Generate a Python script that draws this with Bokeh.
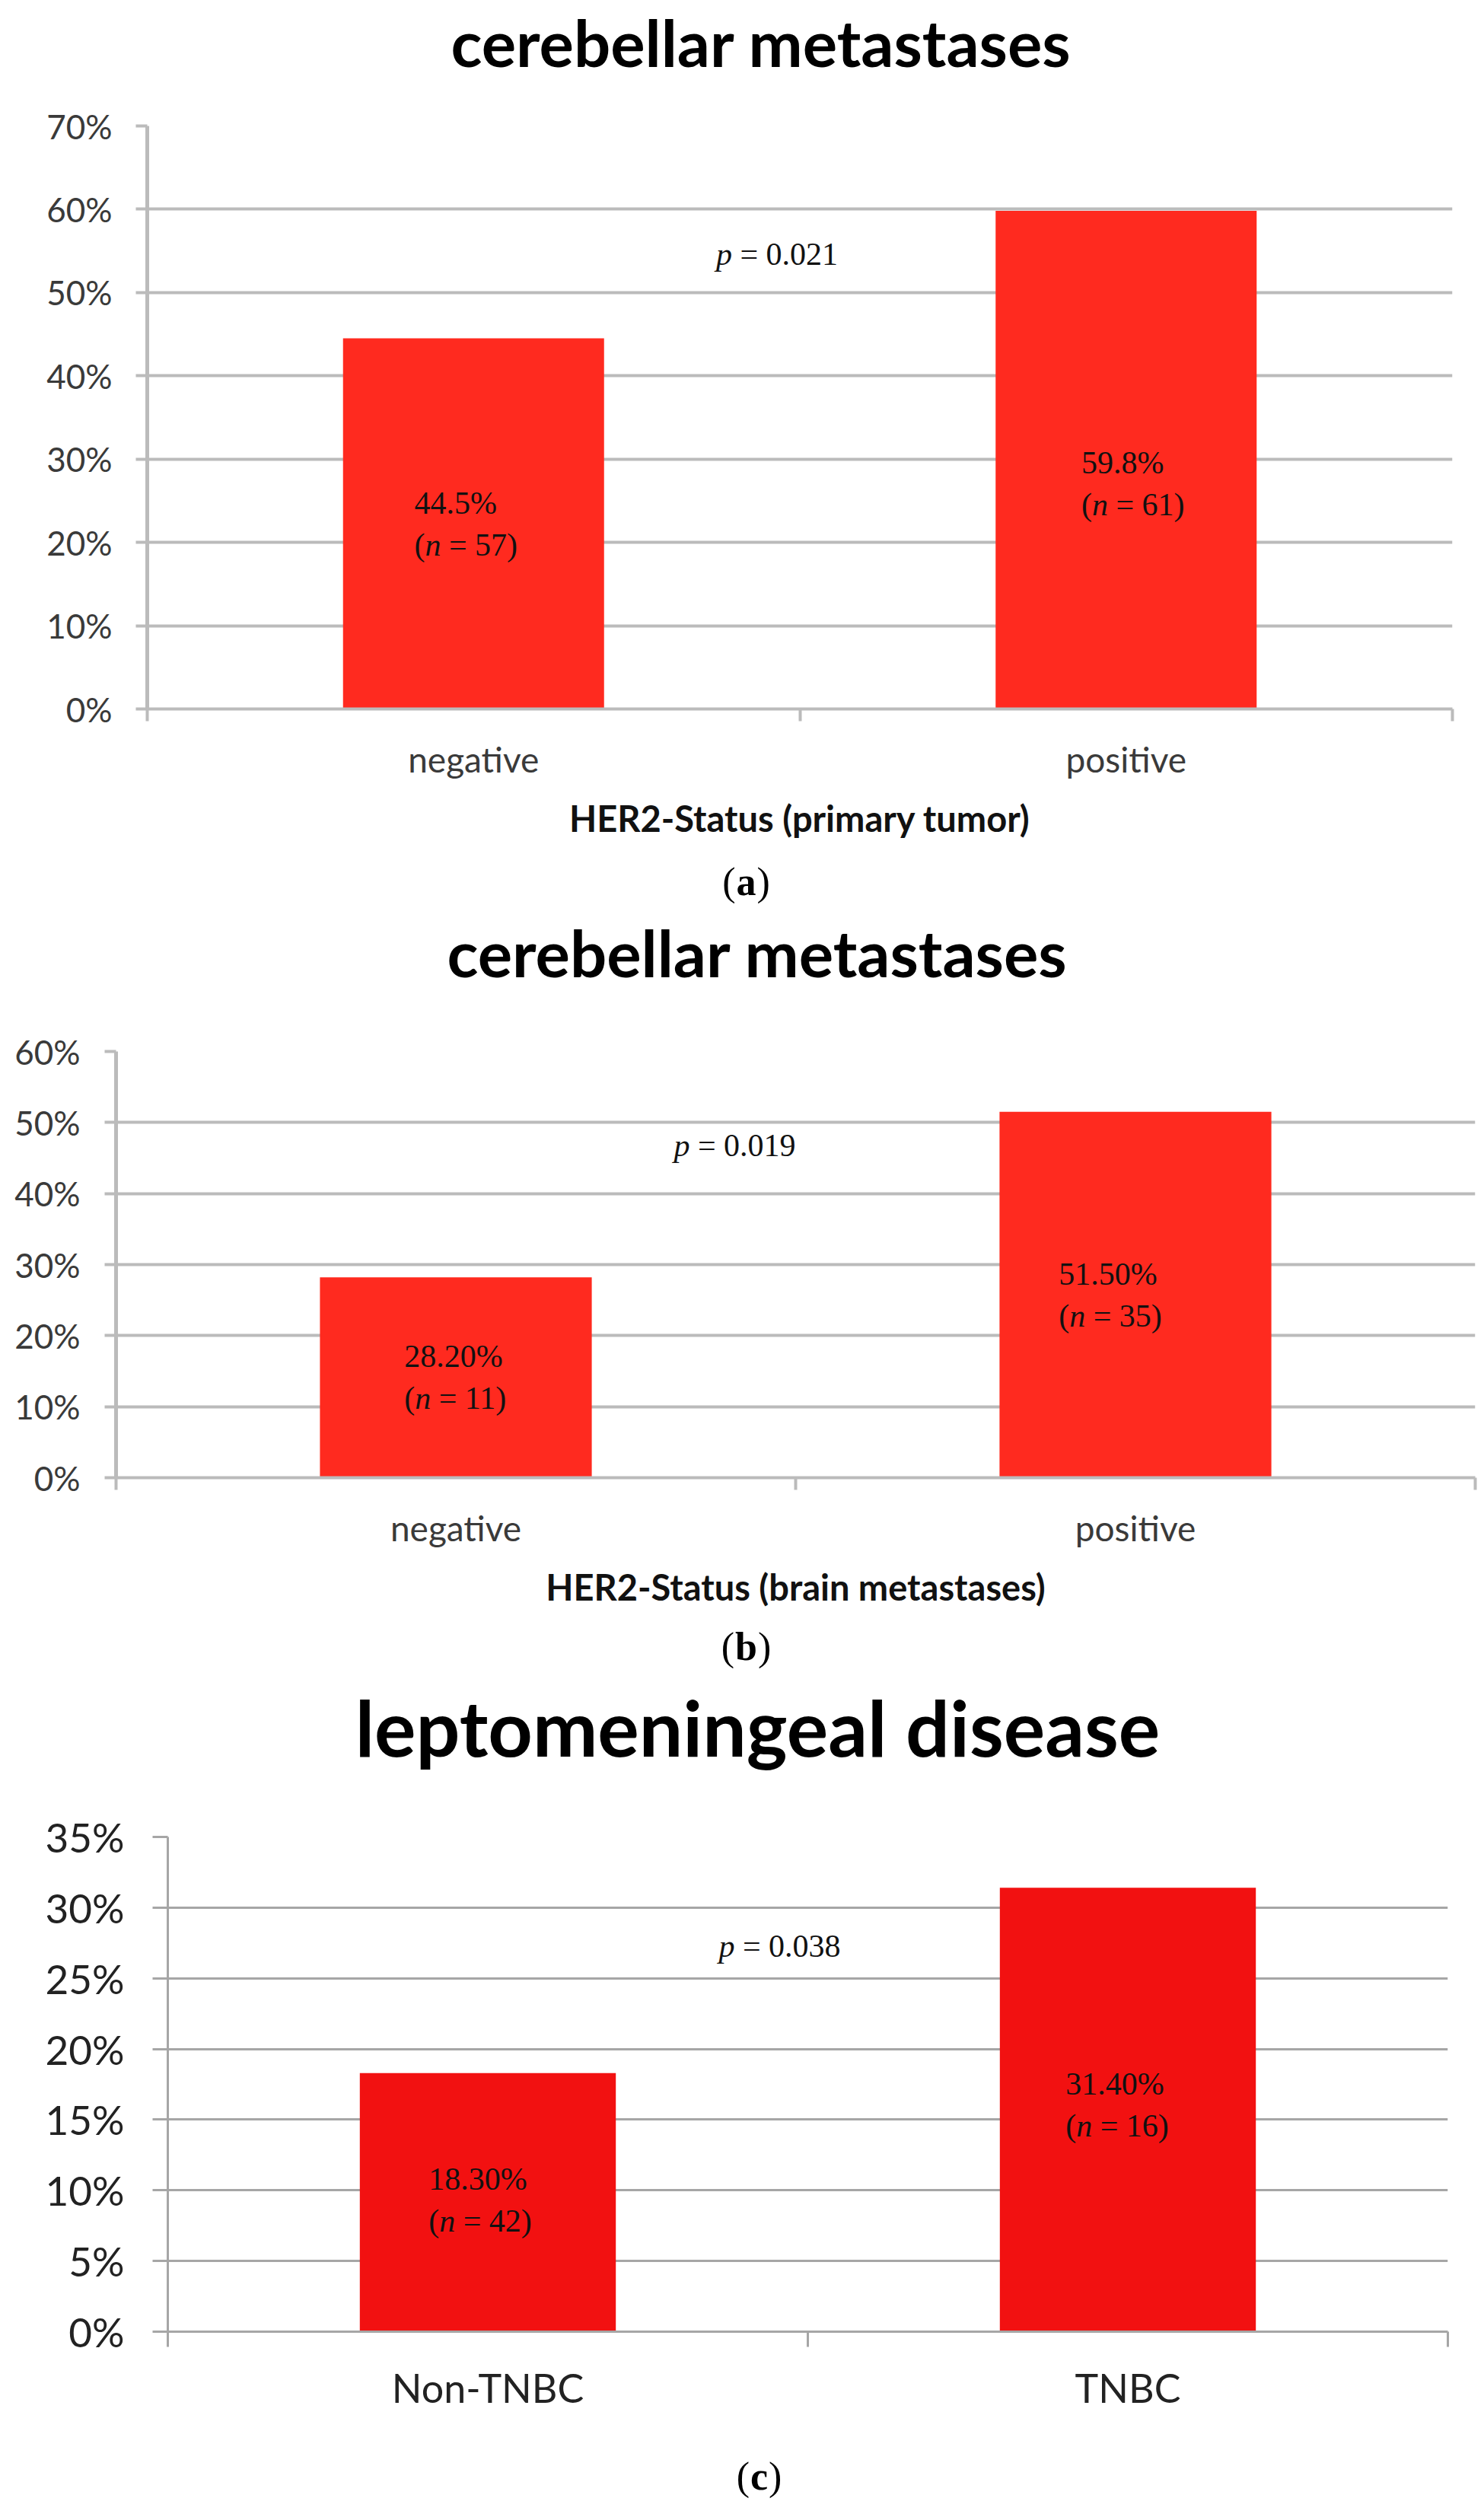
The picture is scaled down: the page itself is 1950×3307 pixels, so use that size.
from bokeh.plotting import figure
from bokeh.models import Range1d, FixedTicker, PrintfTickFormatter, ColumnDataSource
from bokeh.embed import file_html
from bokeh.resources import INLINE
from bokeh.core.properties import value

# ---------------- data ----------------
a_title = "cerebellar metastases"
a_categories = ["negative", "positive"]
a_values = [44.5, 59.8]
a_n = [57, 61]
a_p = "0.021"
a_xlabel = "HER2-Status (primary tumor)"
a_yticks = [0, 10, 20, 30, 40, 50, 60, 70]
a_caption = "a"

b_title = "cerebellar metastases"
b_categories = ["negative", "positive"]
b_values = [28.20, 51.50]
b_n = [11, 35]
b_p = "0.019"
b_xlabel = "HER2-Status (brain metastases)"
b_yticks = [0, 10, 20, 30, 40, 50, 60]
b_caption = "b"

c_title = "leptomeningeal disease"
c_categories = ["Non-TNBC", "TNBC"]
c_values = [18.30, 31.40]
c_n = [42, 16]
c_p = "0.038"
c_xlabel = ""
c_yticks = [0, 5, 10, 15, 20, 25, 30, 35]
c_caption = "c"

# ---------------- layout / style ----------------
PAGE_W = 1950
SERIF = "Liberation Serif"
SANS = "Lato"
FS = 42          # serif annotation font size (px)
LINE = 27.5      # half line spacing of two-line bar labels
CAP_FS = 52
TITLE_COLOR = "#000000"

charts = [
    dict(cats=a_categories, vals=a_values, n=a_n, p=a_p, xlabel=a_xlabel,
         yticks=a_yticks, fmt="{:.1f}%",
         top_page=135, height=990, L=193, R=1908, T=165, B=931,
         bar_color="#FF2A1F", grid_color="#BBBBBB", grid_w=4, axis_w=5,
         tick_size=44, tick_out=15, tick_standoff=31, cat_size=46, cat_standoff=22,
         xtick_out=16, label_color="#3a3a3a", p_shift=-30,
         nudge=[(0, 0), (19, 31)]),
    dict(cats=b_categories, vals=b_values, n=b_n, p=b_p, xlabel=b_xlabel,
         yticks=b_yticks, fmt="{:.2f}%",
         top_page=1340, height=775, L=152, R=1938, T=1381, B=1942,
         bar_color="#FF2A1F", grid_color="#BBBBBB", grid_w=4, axis_w=5,
         tick_size=44, tick_out=15, tick_standoff=32, cat_size=46, cat_standoff=22,
         xtick_out=16, label_color="#3a3a3a", p_shift=-80,
         nudge=[(10, 0), (-23, 0)]),
    dict(cats=c_categories, vals=c_values, n=c_n, p=c_p, xlabel=c_xlabel,
         yticks=c_yticks, fmt="{:.2f}%",
         top_page=2370, height=815, L=220, R=1902, T=2413, B=3063,
         bar_color="#F21111", grid_color="#A6A6A6", grid_w=3, axis_w=3,
         tick_size=53, tick_out=20, tick_standoff=37, cat_size=52, cat_standoff=22,
         xtick_out=20, label_color="#222222", p_shift=-37,
         nudge=[(0, -3), (-4, -6)]),
]

# text strips between the charts: (top on page, height, titles, captions)
# text positions are the vertical middle of each line on the page
strips = [
    dict(top_page=0, height=135,
         titles=[(a_title, 1000, 54, 85)], captions=[]),
    dict(top_page=1125, height=215,
         titles=[(b_title, 995, 1250, 85)], captions=[(a_caption, 980, 1158, 0.50)]),
    dict(top_page=2115, height=255,
         titles=[(c_title, 995, 2268, 102)], captions=[(b_caption, 980, 2163, 0.556)]),
    dict(top_page=3185, height=115,
         titles=[], captions=[(c_caption, 997, 3253, 0.444)]),
]


def serif_width(s):
    w = 0.0
    for ch in s:
        if ch.isdigit():
            w += 0.5
        elif ch == " ":
            w += 0.25
        elif ch == "=":
            w += 0.564
        elif ch in "()":
            w += 0.333
        elif ch == ".":
            w += 0.25
        elif ch == "%":
            w += 0.833
        else:
            w += 0.5
    return w * FS


def make_strip(cfg):
    top, H = cfg["top_page"], cfg["height"]
    s = figure(width=PAGE_W, height=H, output_backend="svg", toolbar_location=None,
               x_range=Range1d(0, PAGE_W), y_range=Range1d(H, 0),
               x_axis_location=None, y_axis_location=None, title=None,
               min_border=0, min_border_left=0, min_border_right=0,
               min_border_top=0, min_border_bottom=0)
    s.outline_line_color = None
    s.xgrid.visible = False
    s.ygrid.visible = False
    s.background_fill_color = "white"
    s.border_fill_color = "white"
    for text, cx, mid, size in cfg["titles"]:
        s.text(x=[cx], y=[mid - top], text=[text], text_align="center",
               text_baseline="middle", text_font=value(SANS), text_font_style="bold",
               text_font_size=f"{size}px", text_color=TITLE_COLOR)
    for letter, cx, mid, wem in cfg["captions"]:
        half = wem * CAP_FS / 2 + 1
        common = dict(y=[mid - top], text_baseline="middle", text_font=value(SERIF),
                      text_font_size=f"{CAP_FS}px", text_color="#000000")
        s.text(x=[cx - half], text=["("], text_align="right", **common)
        s.text(x=[cx], text=[letter], text_align="center", text_font_style="bold", **common)
        s.text(x=[cx + half], text=[")"], text_align="left", **common)
    return s


def make_chart(cfg):
    L, R, T, B = cfg["L"], cfg["R"], cfg["T"], cfg["B"]
    top_page, H = cfg["top_page"], cfg["height"]
    ymax = cfg["yticks"][-1]
    ncat = len(cfg["cats"])

    p = figure(width=PAGE_W, height=H, output_backend="svg", toolbar_location=None,
               x_range=Range1d(0, ncat), y_range=Range1d(0, ymax), title=None,
               min_border_left=L, min_border_right=PAGE_W - R,
               min_border_top=T - top_page, min_border_bottom=top_page + H - B)
    p.outline_line_color = None
    p.background_fill_color = "white"
    p.border_fill_color = "white"

    # grid
    p.xgrid.visible = False
    p.ygrid.ticker = FixedTicker(ticks=cfg["yticks"])
    p.ygrid.grid_line_color = cfg["grid_color"]
    p.ygrid.grid_line_width = cfg["grid_w"]

    # y axis
    ya = p.yaxis[0]
    ya.ticker = FixedTicker(ticks=cfg["yticks"])
    ya.formatter = PrintfTickFormatter(format="%d%%")
    ya.axis_line_color = cfg["grid_color"]
    ya.axis_line_width = cfg["axis_w"]
    ya.major_tick_line_color = cfg["grid_color"]
    ya.major_tick_line_width = cfg["grid_w"]
    ya.major_tick_out = cfg["tick_out"]
    ya.major_tick_in = 0
    ya.minor_tick_line_color = None
    ya.major_label_standoff = cfg["tick_standoff"]
    ya.major_label_text_font = SANS
    ya.major_label_text_font_size = f"{cfg['tick_size']}px"
    ya.major_label_text_color = cfg["label_color"]

    # x axis: labels at category centres, ticks at category boundaries
    xa = p.xaxis[0]
    centers = [i + 0.5 for i in range(ncat)]
    xa.ticker = FixedTicker(ticks=centers, minor_ticks=list(range(ncat + 1)))
    xa.major_label_overrides = {c: name for c, name in zip(centers, cfg["cats"])}
    xa.major_tick_line_color = None
    xa.major_tick_out = 0
    xa.major_tick_in = 0
    xa.minor_tick_line_color = cfg["grid_color"]
    xa.minor_tick_line_width = cfg["grid_w"]
    xa.minor_tick_out = cfg["xtick_out"]
    xa.minor_tick_in = 0
    xa.axis_line_color = cfg["grid_color"]
    xa.axis_line_width = cfg["grid_w"]
    xa.major_label_standoff = cfg["cat_standoff"]
    xa.major_label_text_font = SANS
    xa.major_label_text_font_size = f"{cfg['cat_size']}px"
    xa.major_label_text_color = cfg["label_color"]
    if cfg["xlabel"]:
        xa.axis_label = cfg["xlabel"]
        xa.axis_label_text_font = SANS
        xa.axis_label_text_font_style = "bold"
        xa.axis_label_text_font_size = "47px"
        xa.axis_label_text_color = "#111111"
        xa.axis_label_standoff = 19

    # label geometry (screen px)
    shift = -10
    w_open = serif_width("(")
    w_n = 0.5 * FS
    w_sp = 0.25 * FS
    w_rest = max(serif_width(f" = {k})") for k in cfg["n"])
    total = w_open + w_n + w_rest
    x0 = shift - total / 2
    ndx = [d[0] for d in cfg["nudge"]]
    ndy = [d[1] for d in cfg["nudge"]]

    # bars
    src = ColumnDataSource(dict(
        x=centers, top=cfg["vals"],
        mid=[v / 2 for v in cfg["vals"]],
        pct=[cfg["fmt"].format(v) for v in cfg["vals"]],
        open_=["("] * ncat,
        nn=["n"] * ncat,
        rest=[f"= {k})" for k in cfg["n"]],
        xo1=[x0 + d for d in ndx],
        xo2=[x0 + w_open + d for d in ndx],
        xo3=[x0 + w_open + w_n + w_sp + d for d in ndx],
        yo1=[-LINE + d for d in ndy],
        yo2=[LINE + d for d in ndy],
    ))
    p.vbar(x="x", top="top", bottom=0, width=0.4, source=src,
           fill_color=cfg["bar_color"], line_color=None)

    # two-line labels inside bars
    common = dict(source=src, text_font=value(SERIF), text_font_size=f"{FS}px",
                  text_color="#111111", text_baseline="middle", text_align="left")
    p.text(x="x", y="mid", text="pct", x_offset="xo1", y_offset="yo1", **common)
    p.text(x="x", y="mid", text="open_", x_offset="xo1", y_offset="yo2", **common)
    p.text(x="x", y="mid", text="nn", x_offset="xo2", y_offset="yo2",
           text_font_style="italic", **common)
    p.text(x="x", y="mid", text="rest", x_offset="xo3", y_offset="yo2", **common)

    # p-value between the bars
    ptot = 0.5 * FS + serif_width(f" = {cfg['p']}")
    joint = cfg["p_shift"] - ptot / 2 + 0.5 * FS
    psrc = ColumnDataSource(dict(x=[ncat / 2], y=[ymax * 0.78], pp=["p"],
                                 rest=[f"= {cfg['p']}"]))
    p.text(x="x", y="y", text="pp", source=psrc, x_offset=joint, text_align="right",
           text_baseline="middle", text_font=value(SERIF), text_font_style="italic",
           text_font_size=f"{FS}px", text_color="#111111")
    p.text(x="x", y="y", text="rest", source=psrc, x_offset=joint + w_sp, text_align="left",
           text_baseline="middle", text_font=value(SERIF),
           text_font_size=f"{FS}px", text_color="#111111")
    return p


roots = [
    make_strip(strips[0]),
    make_chart(charts[0]),
    make_strip(strips[1]),
    make_chart(charts[1]),
    make_strip(strips[2]),
    make_chart(charts[2]),
    make_strip(strips[3]),
]
p = roots
open("out.html", "w").write(file_html(p, INLINE))
